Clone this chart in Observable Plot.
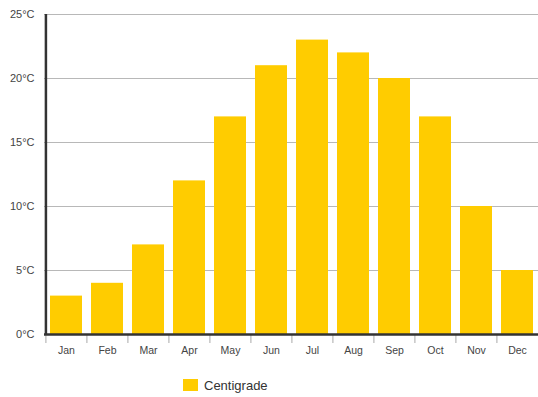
<!DOCTYPE html>
<html>
<head>
<meta charset="utf-8">
<script src="https://cdn.jsdelivr.net/npm/d3@7"></script>
<script src="https://cdn.jsdelivr.net/npm/@observablehq/plot@0.6"></script>
<style>
  body { margin: 0; background: #fff; font-family: "Liberation Sans", Arial, sans-serif; }
  #legend { height: 32px; display: flex; align-items: center; padding-left: 183px; box-sizing: border-box; padding-top: 8px; }
  #legend .sw { width: 15px; height: 12px; background: #FFCC00; margin-right: 6px; }
  #legend span { font-size: 13px; color: #333; }
</style>
</head>
<body>
<div id="chart"></div>
<div id="legend"><div class="sw"></div><span>Centigrade</span></div>
<script>
const months = ["Jan","Feb","Mar","Apr","May","Jun","Jul","Aug","Sep","Oct","Nov","Dec"];
const centigrade = [3, 4, 7, 12, 17, 21, 23, 22, 20, 17, 10, 5];
const yTicks = [0, 5, 10, 15, 20, 25];
const seriesName = "Centigrade";

const data = months.map((m, i) => ({month: m, value: centigrade[i]}));

const W = 538, H = 365, ML = 44, MR = 0;
const step = (W - ML - MR) / months.length;

const chart = Plot.plot({
  width: W,
  height: H,
  marginTop: 14,
  marginBottom: 31,
  marginLeft: ML,
  marginRight: MR,
  style: {fontFamily: "'Liberation Sans', Arial, sans-serif", background: "#fff"},
  x: {domain: months, paddingInner: 0.22, paddingOuter: 0.11, label: null},
  y: {domain: [0, 25], label: null},
  marks: [
    Plot.gridY(yTicks.filter(d => d > 0), {stroke: "#b8b8b8", strokeOpacity: 1, strokeWidth: 1}),
    Plot.barY(data, {x: "month", y: "value", fill: "#FFCC00"}),
    Plot.axisY(yTicks, {tickSize: 0, tickPadding: 10, tickFormat: d => d + "°C", fontSize: 11, fill: "#444", label: null}),
    Plot.axisX({tickSize: 0, tickPadding: 12, fontSize: 10.5, fill: "#444", label: null}),
    Plot.axisX({tickSize: 9, tickFormat: () => "", stroke: "#aaa", dx: -step / 2, label: null}),
    Plot.ruleY([0], {stroke: "#333", strokeWidth: 2.5}),
    Plot.ruleX([months[0]], {dx: -step / 2, stroke: "#333", strokeWidth: 2.5})
  ]
});
document.getElementById("chart").append(chart);
document.querySelector("#legend span").textContent = seriesName;
</script>
</body>
</html>
